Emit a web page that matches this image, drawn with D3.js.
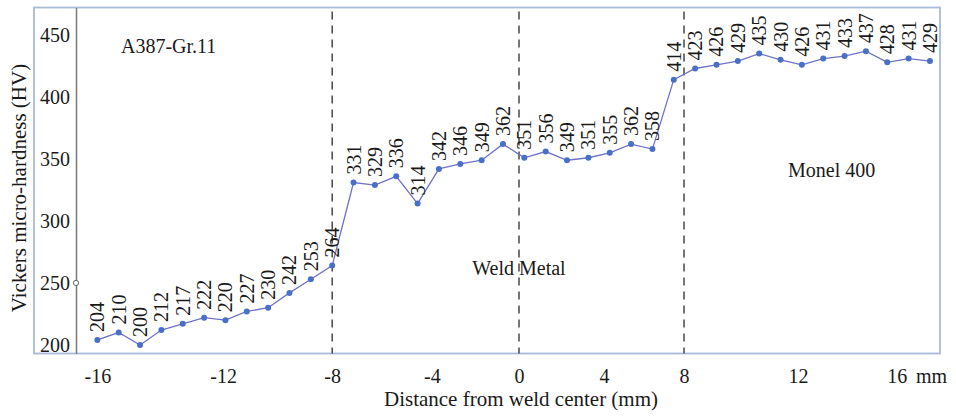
<!DOCTYPE html>
<html>
<head>
<meta charset="utf-8">
<script src="https://cdn.jsdelivr.net/npm/d3@7"></script>
<style>
  html, body { margin: 0; padding: 0; background: #fff; }
  svg { display: block; }
  svg text { font-family: "Liberation Serif", "Times New Roman", serif !important; fill: #1a1a1a; }
</style>
</head>
<body>
<svg id="chart" width="956" height="417"></svg>
<script>
// ---- data ----
const hardness = [204, 210, 200, 212, 217, 222, 220, 227, 230, 242, 253, 264,
                  331, 329, 336, 314, 342, 346, 349, 362,
                  351, 356, 349, 351, 355, 362, 358, 414,
                  423, 426, 429, 435, 430, 426, 431, 433, 437, 428, 431, 429];
const xTickLabels = ["-16", "-12", "-8", "-4", "0", "4", "8", "12", "16"];
// where each distance label sits along the measurement sequence (in point-index units)
const xTickAt = [0, 5.89, 11, 15.67, 19.75, 23.73, 27.48, 32.82, 37.45];
const yTicks = [200, 250, 300, 350, 400, 450];
const zoneBoundaries = ["-8", "0", "8"];
const zoneLabels = ["A387-Gr.11", "Weld Metal", "Monel 400"];

// ---- layout ----
const svg = d3.select("#chart");
const FONT = '"Liberation Serif", "Times New Roman", serif';
const frame = { left: 34, top: 7.5, right: 940, bottom: 353.5 };
const axisX = 76;

const x = d3.scaleLinear().domain([-1, 39.47]).range([axisX, frame.right]);
const y = d3.scaleLinear().domain([193.1, 472.2]).range([frame.bottom, frame.top]);

// frame
svg.append("rect")
  .attr("x", frame.left).attr("y", frame.top)
  .attr("width", frame.right - frame.left).attr("height", frame.bottom - frame.top)
  .attr("fill", "#fff").attr("stroke", "#a9bada").attr("stroke-width", 1.8);

// y axis
const yAxis = svg.append("g")
  .attr("transform", `translate(${axisX},0)`)
  .attr("font-family", FONT).attr("font-size", 20)
  .call(d3.axisLeft(y).tickValues(yTicks).tickSize(0).tickSizeOuter(0).tickPadding(6));
yAxis.attr("font-family", FONT).attr("font-size", 20);
yAxis.select(".domain").attr("stroke", "#7a7a7a").attr("stroke-width", 1.5);
yAxis.selectAll("text").attr("fill", "#1a1a1a");

// small open circle on axis at 250
svg.append("circle").attr("cx", axisX).attr("cy", y(250)).attr("r", 2.6)
  .attr("fill", "#fff").attr("stroke", "#666").attr("stroke-width", 1);

// x axis labels
const xAxis = svg.append("g")
  .attr("transform", `translate(0,${frame.bottom})`)
  .call(d3.axisBottom(x).tickValues(xTickAt).tickFormat((d, i) => xTickLabels[i])
        .tickSize(0).tickPadding(15));
xAxis.attr("font-family", FONT).attr("font-size", 20);
xAxis.select(".domain").remove();
xAxis.selectAll("text").attr("fill", "#1a1a1a");

svg.append("text").attr("x", 916).attr("y", 383)
  .attr("font-family", FONT).attr("font-size", 20).text("mm");

// zone boundary dashed lines
const boundaryX = zoneBoundaries.map(b => x(xTickAt[xTickLabels.indexOf(b)]));
svg.selectAll(".bound").data(boundaryX).enter().append("line")
  .attr("x1", d => d).attr("x2", d => d)
  .attr("y1", frame.top + 4).attr("y2", frame.bottom)
  .attr("stroke", "#3a3a3a").attr("stroke-width", 1.4)
  .attr("stroke-dasharray", "8,6");

// line + points
const line = d3.line().x((d, i) => x(i)).y(d => y(d));
svg.append("path").datum(hardness).attr("d", line)
  .attr("fill", "none").attr("stroke", "#6f72c9").attr("stroke-width", 1.3);
svg.selectAll(".pt").data(hardness).enter().append("circle")
  .attr("cx", (d, i) => x(i)).attr("cy", d => y(d)).attr("r", 3)
  .attr("fill", "#4a70c6");

// value labels
svg.selectAll(".val").data(hardness).enter().append("text")
  .attr("transform", (d, i) => `translate(${x(i)},${y(d) - 8}) rotate(-90)`)
  .attr("dy", "0.35em")
  .attr("font-family", FONT).attr("font-size", 20)
  .text(d => d);

// zone annotations
svg.append("text").attr("x", 121).attr("y", 53)
  .attr("font-family", FONT).attr("font-size", 20).text(zoneLabels[0]);
svg.append("text").attr("x", boundaryX[1]).attr("y", 275).attr("text-anchor", "middle")
  .attr("font-family", FONT).attr("font-size", 20).text(zoneLabels[1]);
svg.append("text").attr("x", 788).attr("y", 177)
  .attr("font-family", FONT).attr("font-size", 20).text(zoneLabels[2]);

// axis titles
svg.append("text").attr("transform", "translate(26,188) rotate(-90)")
  .attr("text-anchor", "middle").attr("font-family", FONT).attr("font-size", 21)
  .text("Vickers micro-hardness (HV)");
svg.append("text").attr("x", 521).attr("y", 406).attr("text-anchor", "middle")
  .attr("font-family", FONT).attr("font-size", 21).text("Distance from weld center (mm)");
</script>
</body>
</html>
